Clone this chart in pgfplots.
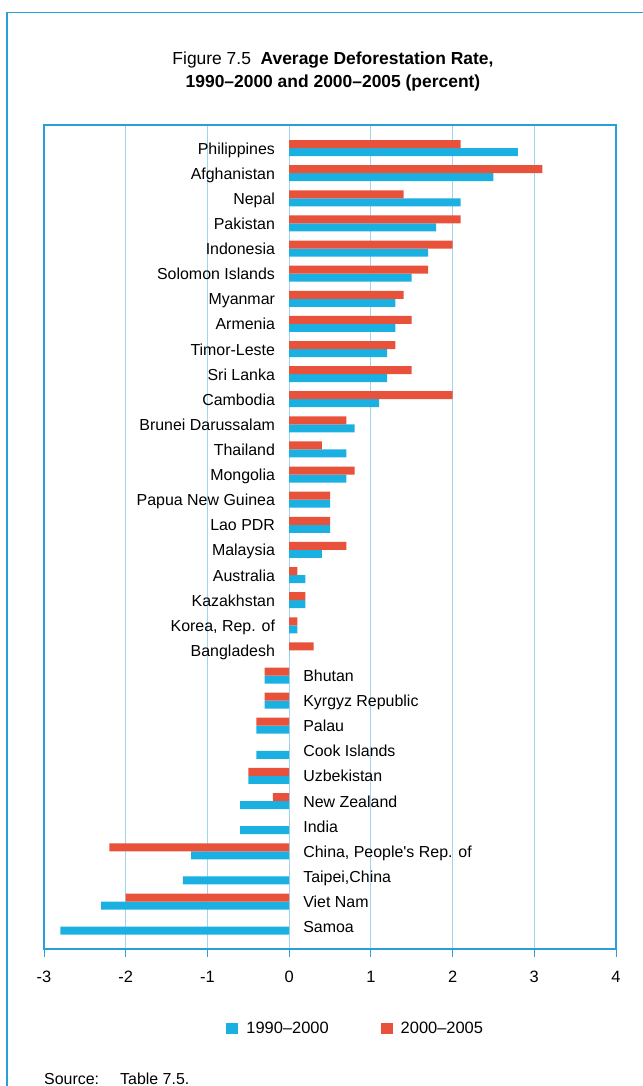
\documentclass[border=0pt]{standalone}
\usepackage{fontspec}
\setmainfont{Liberation Sans}
\newfontfamily\plainf{Liberation Sans}
\usepackage{pgfplots}
\pgfplotsset{compat=1.18}
\usepackage{pgfplotstable}
\definecolor{barblue}{RGB}{27,176,226}
\definecolor{barred}{RGB}{232,82,58}
\definecolor{frameblue}{RGB}{40,158,218}
\definecolor{gridblue}{RGB}{160,212,240}

\pgfplotstableread{
y blue red
31 2.8 2.1
30 2.5 3.1
29 2.1 1.4
28 1.8 2.1
27 1.7 2.0
26 1.5 1.7
25 1.3 1.4
24 1.3 1.5
23 1.2 1.3
22 1.2 1.5
21 1.1 2.0
20 0.8 0.7
19 0.7 0.4
18 0.7 0.8
17 0.5 0.5
16 0.5 0.5
15 0.4 0.7
14 0.2 0.1
13 0.2 0.2
12 0.1 0.1
11 0.0 0.3
10 -0.3 -0.3
9 -0.3 -0.3
8 -0.4 -0.4
7 -0.4 0.0
6 -0.5 -0.5
5 -0.6 -0.2
4 -0.6 0.0
3 -1.2 -2.2
2 -1.3 0.0
1 -2.3 -2.0
0 -2.8 0.0
}\datatable

\newcommand{\labpos}[2]{\node[font=\fontsize{16}{19}\selectfont, anchor=base east, xshift=-14bp, yshift=-6bp, inner sep=0pt] at (axis cs:0,#1) {#2};}
\newcommand{\labneg}[2]{\node[font=\fontsize{16}{19}\selectfont, anchor=base west, xshift=14bp, yshift=-6bp, inner sep=0pt] at (axis cs:0,#1) {#2};}

\begin{document}
\begin{tikzpicture}
\useasboundingbox (0bp,0bp) rectangle (643bp,1086bp);
\draw[frameblue, line width=1.5bp] (645bp,1073.5bp) -- (7bp,1073.5bp) -- (7bp,-2bp);
\node[font=\fontsize{17.5}{21}\selectfont, anchor=base, inner sep=0pt] at (333bp,1021bp) {Figure 7.5\ \ \textbf{Average Deforestation Rate,}};
\node[font=\fontsize{17.5}{21}\selectfont, anchor=base, inner sep=0pt] at (333bp,998.7bp) {\textbf{1990–2000 and 2000–2005 (percent)}};
\node[font=\fontsize{16}{19}\selectfont, anchor=base west, inner sep=0pt] at (44bp,1.5bp) {Source:};
\node[font=\fontsize{16}{19}\selectfont, anchor=base west, inner sep=0pt] at (120bp,1.5bp) {Table 7.5.};
\begin{axis}[
  at={(44bp,137bp)}, anchor=south west,
  scale only axis, width=572bp, height=824bp,
  xmin=-3, xmax=4, ymin=-0.89, ymax=31.92,
  xbar, bar width=8bp,
  xtick={-3,-2,-1,0,1,2,3,4}, ytick=\empty,
  xmajorgrids, grid style={gridblue, line width=1bp},
  axis line style={frameblue, line width=1.2bp},
  tick style={frameblue, line width=1bp},
  tick align=outside, major tick length=8bp,
  xtick pos=bottom,
  /pgf/number format/assume math mode=true,
  xticklabel style={font=\fontsize{16.5}{19}\selectfont, anchor=base, yshift=-26bp},
  legend columns=2,
  legend style={draw=none, fill=none, at={(0.545,-0.0959)}, anchor=center,
    font=\fontsize{16.5}{19}\selectfont,
    /tikz/every even column/.append style={column sep=50bp}},
  legend image code/.code={\fill[#1] (0bp,-5.5bp) rectangle (12bp,5.5bp);},
  legend style={/tikz/every odd column/.append style={column sep=6bp}},
]
\addplot[fill=barblue, draw=none, bar shift=-4bp] table[x=blue, y=y] {\datatable};
\addlegendentry{1990–2000}
\addplot[fill=barred, draw=none, bar shift=4bp] table[x=red, y=y] {\datatable};
\addlegendentry{2000–2005}
\labpos{31}{Philippines}
\labpos{30}{Afghanistan}
\labpos{29}{Nepal}
\labpos{28}{Pakistan}
\labpos{27}{Indonesia}
\labpos{26}{Solomon Islands}
\labpos{25}{Myanmar}
\labpos{24}{Armenia}
\labpos{23}{Timor-Leste}
\labpos{22}{Sri Lanka}
\labpos{21}{Cambodia}
\labpos{20}{Brunei Darussalam}
\labpos{19}{Thailand}
\labpos{18}{Mongolia}
\labpos{17}{Papua New Guinea}
\labpos{16}{Lao PDR}
\labpos{15}{Malaysia}
\labpos{14}{Australia}
\labpos{13}{Kazakhstan}
\labpos{12}{Korea, Rep. of}
\labpos{11}{Bangladesh}
\labneg{10}{Bhutan}
\labneg{9}{Kyrgyz Republic}
\labneg{8}{Palau}
\labneg{7}{Cook Islands}
\labneg{6}{Uzbekistan}
\labneg{5}{New Zealand}
\labneg{4}{India}
\labneg{3}{{\plainf China, People's Rep. of}}
\labneg{2}{Taipei,China}
\labneg{1}{Viet Nam}
\labneg{0}{Samoa}
\end{axis}
\end{tikzpicture}
\end{document}
